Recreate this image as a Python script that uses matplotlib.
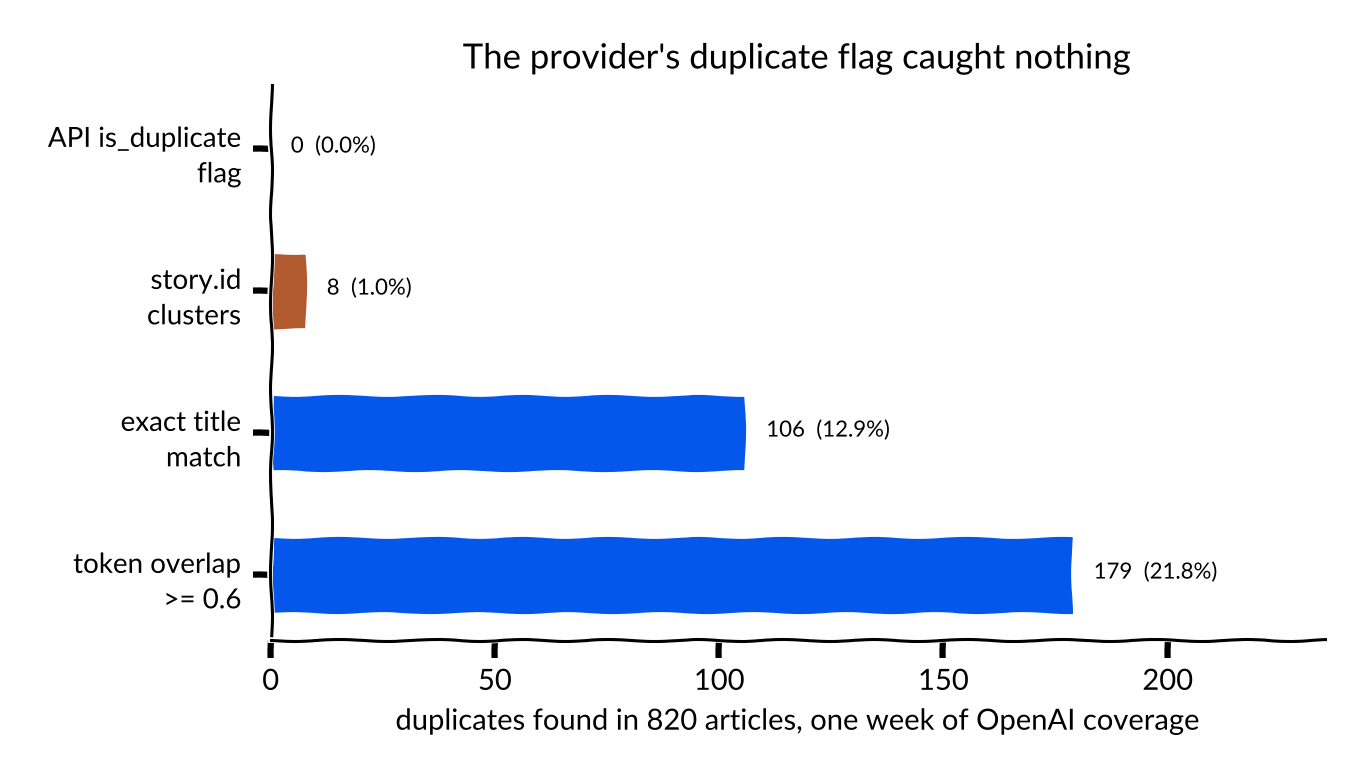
import matplotlib
matplotlib.use("Agg")
import matplotlib.pyplot as plt

categories = ["API is_duplicate\nflag", "story.id\nclusters", "exact title\nmatch", "token overlap\n>= 0.6"]
counts = [0, 8, 106, 179]
percents = [0.0, 1.0, 12.9, 21.8]
colors = ["#9a9a9a", "#B15A30", "#0457EA", "#0457EA"]
xticks = [0, 50, 100, 150, 200]

with plt.xkcd():
    plt.rcParams['font.family'] = ['Lato', 'DejaVu Sans']
    fig = plt.figure(figsize=(13.6, 7.81), dpi=100)
    ax = fig.add_axes([0.199, 0.181, 0.775, 0.71])
    y = list(range(len(categories)))
    ax.barh(y, counts, height=0.55, color=colors, edgecolor="white", linewidth=2)
    for yi, c, p in zip(y, counts, percents):
        ax.text(c + 4.5, yi - 0.02, f"{c}  ({p:.1f}%)", va="center", ha="left", fontsize=16)
    ax.set_yticks(y)
    ax.set_yticklabels(categories, fontsize=20, linespacing=1.45)
    ax.invert_yaxis()
    ax.set_xlim(0, 235)
    ax.set_xticks(xticks)
    ax.tick_params(axis='x', labelsize=21, length=13, width=4.5, pad=8)
    ax.tick_params(axis='y', length=13, width=4.5, pad=8)
    ax.spines['top'].set_visible(False)
    ax.spines['right'].set_visible(False)
    ax.spines['left'].set_linewidth(2.2)
    ax.spines['bottom'].set_linewidth(2.2)
    ax.set_xlabel("duplicates found in 820 articles, one week of OpenAI coverage", fontsize=21, labelpad=10)
    ax.set_title("The provider's duplicate flag caught nothing", fontsize=25, pad=12)
    fig.savefig("out.png", dpi=100)
